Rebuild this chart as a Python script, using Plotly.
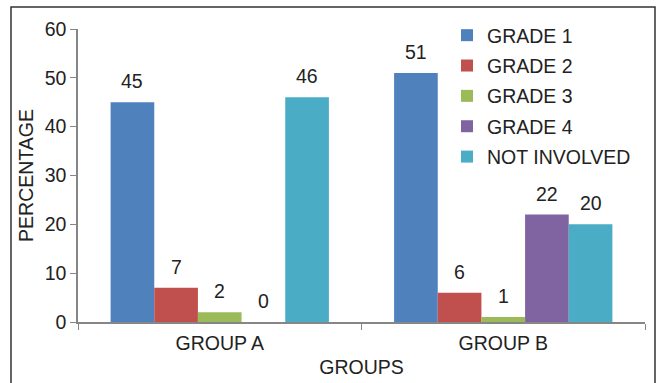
import plotly.graph_objects as go

groups = ["GROUP A", "GROUP B"]
series_names = ["GRADE 1", "GRADE 2", "GRADE 3", "GRADE 4", "NOT INVOLVED"]
grade1 = [45, 51]
grade2 = [7, 6]
grade3 = [2, 1]
grade4 = [0, 22]
not_involved = [46, 20]
colors = ["#4F81BD", "#C0504D", "#9BBB59", "#8064A2", "#4BACC6"]

values = [grade1, grade2, grade3, grade4, not_involved]

FONT = "Liberation Sans, Arial, sans-serif"
FS = 19.5

W, H = 657, 383
L, R, T, B = 78, 12, 29, 61
pw, ph = W - L - R, H - T - B
BARGAP = 0.23

def px_x(x):
    return (x - L) / pw

def px_y(y):
    return (H - B - y) / ph

fig = go.Figure()
for name, vals, col in zip(series_names, values, colors):
    fig.add_trace(go.Bar(
        x=groups, y=vals, name=name, legendgroup=name,
        marker=dict(color=col, line=dict(width=0)),
    ))

# value labels above bars, positioned via category axis + bar-slot offset
n = len(series_names)
bar_px = pw / len(groups) * (1 - BARGAP) / n
annotations = []
for i, vals in enumerate(values):
    for g, v in zip(groups, vals):
        annotations.append(dict(
            x=g, y=v, xref="x", yref="y", text=str(v), showarrow=False,
            xshift=(i - (n - 1) / 2) * bar_px, yshift=8, yanchor="bottom",
            font=dict(size=FS, family=FONT, color="#222222"),
        ))

fig.update_layout(
    width=W, height=H,
    margin=dict(l=L, r=R, t=T, b=B, autoexpand=False),
    paper_bgcolor="white", plot_bgcolor="white",
    barmode="group", bargap=BARGAP, bargroupgap=0,
    font=dict(family=FONT, size=FS, color="#222222"),
    showlegend=True,
    legend=dict(
        x=px_x(447), y=px_y(16), xanchor="left", yanchor="top",
        font=dict(size=FS, family=FONT, color="#222222"),
        bgcolor="rgba(0,0,0,0)", itemwidth=30,
        traceorder="grouped", tracegroupgap=2,
    ),
    xaxis=dict(
        showline=True, linecolor="#868686", linewidth=1.5,
        ticks="outside", tickson="boundaries", ticklen=6, tickcolor="#868686",
        tickfont=dict(size=FS, family=FONT, color="#222222"),
        ticklabelstandoff=3, automargin=False,
        title=dict(text="GROUPS", font=dict(size=FS, family=FONT, color="#222222"), standoff=7),
        showgrid=False,
    ),
    yaxis=dict(
        range=[0, 60], dtick=10, showline=True, linecolor="#868686", linewidth=1.5,
        ticks="outside", ticklen=6, tickcolor="#868686", automargin=False,
        tickfont=dict(size=FS, family=FONT, color="#222222"),
        title=dict(text="PERCENTAGE", font=dict(size=FS, family=FONT, color="#222222"), standoff=6),
        showgrid=False, zeroline=False,
    ),
    annotations=annotations,
    shapes=[dict(
        type="rect", xref="paper", yref="paper",
        x0=px_x(11), x1=px_x(655), y0=px_y(390), y1=px_y(7),
        line=dict(color="#333333", width=1.5), fillcolor="rgba(0,0,0,0)", layer="below",
    )],
)

fig.write_html("out.html")
